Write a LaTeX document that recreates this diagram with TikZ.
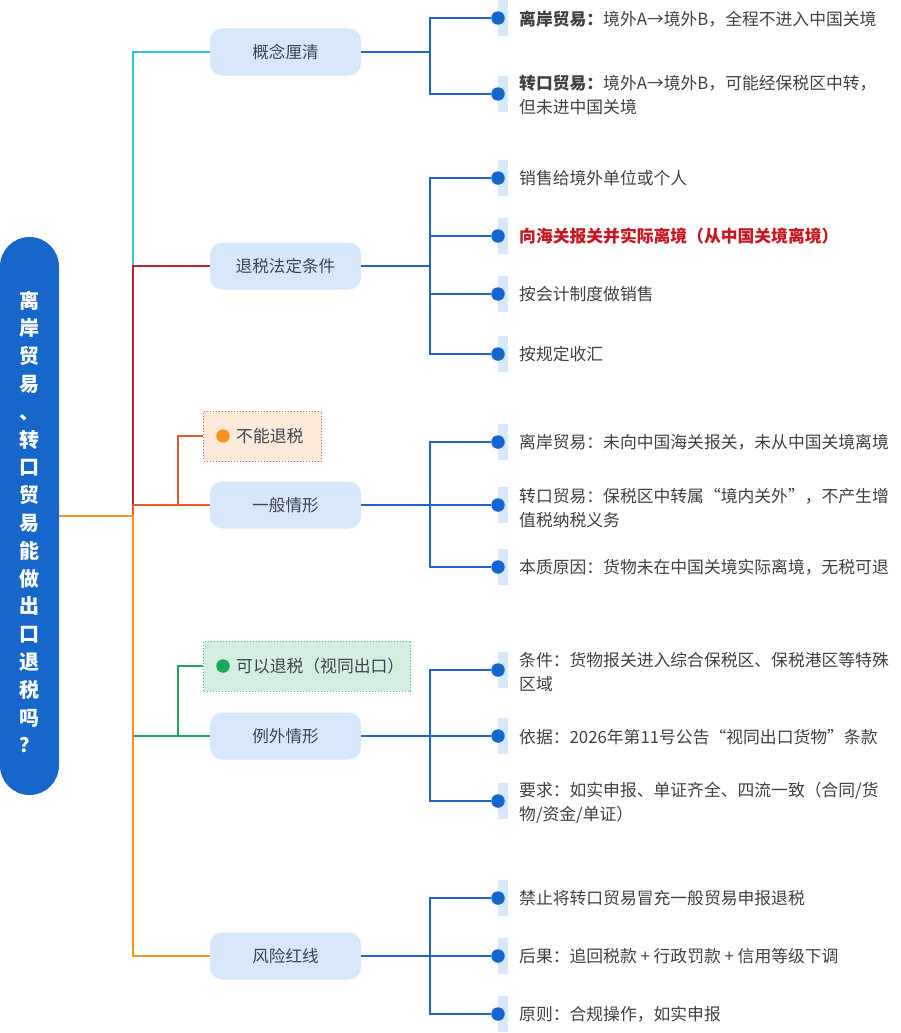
\documentclass[tikz,border=0pt]{standalone}
\usepackage{fontspec}
\setmainfont{Noto Sans CJK SC}
\definecolor{rootblue}{HTML}{1766CC}
\definecolor{nodefill}{HTML}{D6E6FB}
\definecolor{nodetext}{HTML}{3D4555}
\definecolor{childtext}{HTML}{404040}
\definecolor{redtext}{HTML}{C8161E}
\definecolor{connblue}{HTML}{1E64C4}
\definecolor{dotblue}{HTML}{1565D0}
\definecolor{barblue}{HTML}{D8E7FB}
\definecolor{brcyan}{HTML}{2BC4DC}
\definecolor{brred}{HTML}{B8232F}
\definecolor{brorred}{HTML}{E85A2A}
\definecolor{brgreen}{HTML}{1FA563}
\definecolor{brorange}{HTML}{F5951F}
\definecolor{peachfill}{HTML}{FDEAD8}
\definecolor{peachline}{HTML}{E0604E}
\definecolor{mintfill}{HTML}{D3EEDF}
\definecolor{mintline}{HTML}{5DB885}
\definecolor{dotorange}{HTML}{F7931E}
\definecolor{dotgreen}{HTML}{17A85A}
\begin{document}
\begin{tikzpicture}[x=1pt,y=-1pt,
  rootbox/.style={rectangle, rounded corners=29.5pt, fill=rootblue, minimum width=59pt, minimum height=558pt, inner sep=0pt},
  roottext/.style={inner sep=0pt, text=white, align=center, font=\fontsize{20pt}{27.8pt}\selectfont\bfseries},
  l1box/.style={rectangle, rounded corners=12pt, fill=nodefill, minimum width=151pt, minimum height=47pt, inner sep=0pt, text=nodetext, font=\fontsize{16.6pt}{20pt}\selectfont},
  childtxt/.style={anchor=west, inner sep=0pt, align=left, text=childtext, font=\fontsize{16.8pt}{24pt}\selectfont},
  bar/.style={rectangle, fill=barblue, minimum width=10pt, minimum height=36pt, inner sep=0pt},
  bdot/.style={circle, fill=dotblue, minimum size=13.5pt, inner sep=0pt},
  conn/.style={draw=connblue, line width=2.2pt},
  trunk/.style={line width=2.2pt},
  tagbox/.style={rectangle, dotted, line width=1pt, inner sep=0pt, anchor=west, minimum height=50pt},
  tagdot/.style={circle, minimum size=13.5pt, inner sep=0pt},
  tagtxt/.style={anchor=west, inner sep=0pt, text=nodetext, font=\fontsize{16.8pt}{20pt}\selectfont}
]
\useasboundingbox (0,0) rectangle (900,1033);

% root
\node[rootbox] (root) at (29.5,516) {};
\node[roottext] (roott) at (29.5,522) {离\\岸\\贸\\易\\、\\转\\口\\贸\\易\\能\\做\\出\\口\\退\\税\\吗\\？};
\coordinate (tr) at (133,516);

% level-1 nodes
\node[l1box] (c1) at (285.5,52) {概念厘清};
\node[l1box] (c2) at (285.5,266) {退税法定条件};
\node[l1box] (c3) at (285.5,505) {一般情形};
\node[l1box] (c4) at (285.5,736) {例外情形};
\node[l1box] (c5) at (285.5,956) {风险红线};

% tag boxes
\node[tagbox, draw=peachline, fill=peachfill, minimum width=118pt] (t3) at (203,436) {};
\node[tagdot, fill=dotorange] (t3d) at (223,436) {};
\node[tagtxt] (t3t) at (236,436) {不能退税};
\node[tagbox, draw=mintline, fill=mintfill, minimum width=207pt] (t4) at (203,666) {};
\node[tagdot, fill=dotgreen] (t4d) at (223,666) {};
\node[tagtxt] (t4t) at (236,666) {可以退税（视同出口）};

% trunk connectors
\coordinate (j3) at (178,505);
\coordinate (j4) at (178,736);
\draw[trunk, brcyan] (root.east) -- (tr) |- (c1.west);
\draw[trunk, brred] (tr) |- (c2.west);
\draw[trunk, brorred] (tr) |- (c3.west);
\draw[trunk, brorred] (j3) |- (t3.west);
\draw[trunk, brgreen] (tr) |- (c4.west);
\draw[trunk, brgreen] (j4) |- (t4.west);
\draw[trunk, brorange] (root.east) -- (tr) |- (c5.west);

% children group 1
\coordinate (b1) at (430,52);
\node[bar] (r11) at (503,18) {};
\node[bdot] (d11) at (498,18) {};
\node[childtxt] (x11) at (519,19) {\textbf{离岸贸易：}境外A→境外B，全程不进入中国关境};
\node[bar] (r12) at (503,94) {};
\node[bdot] (d12) at (498,94) {};
\node[childtxt] (x12) at (519,95) {\textbf{转口贸易：}境外A→境外B，可能经保税区中转，\\但未进中国关境};
\draw[conn] (c1.east) -- (b1) |- (d11);
\draw[conn] (b1) |- (d12);

% children group 2
\coordinate (b2) at (430,266);
\node[bar] (r21) at (503,178) {};
\node[bdot] (d21) at (498,178) {};
\node[childtxt] (x21) at (519,178) {销售给境外单位或个人};
\node[bar] (r22) at (503,236) {};
\node[bdot] (d22) at (498,236) {};
\node[childtxt, text=redtext] (x22) at (519,236) {\textbf{向海关报关并实际离境（从中国关境离境）}};
\node[bar] (r23) at (503,294) {};
\node[bdot] (d23) at (498,294) {};
\node[childtxt] (x23) at (519,294) {按会计制度做销售};
\node[bar] (r24) at (503,354) {};
\node[bdot] (d24) at (498,354) {};
\node[childtxt] (x24) at (519,354) {按规定收汇};
\draw[conn] (c2.east) -- (b2) |- (d21);
\draw[conn] (b2) |- (d22);
\draw[conn] (b2) |- (d23);
\draw[conn] (b2) |- (d24);

% children group 3
\coordinate (b3) at (430,505);
\node[bar] (r31) at (503,442) {};
\node[bdot] (d31) at (498,442) {};
\node[childtxt] (x31) at (519,442) {离岸贸易：未向中国海关报关，未从中国关境离境};
\node[bar] (r32) at (503,505) {};
\node[bdot] (d32) at (498,505) {};
\node[childtxt] (x32) at (519,508) {转口贸易：保税区中转属“境内关外”，不产生增\\值税纳税义务};
\node[bar] (r33) at (503,567) {};
\node[bdot] (d33) at (498,567) {};
\node[childtxt] (x33) at (519,567) {本质原因：货物未在中国关境实际离境，无税可退};
\draw[conn] (c3.east) -- (b3) |- (d31);
\draw[conn] (b3) |- (d32);
\draw[conn] (b3) |- (d33);

% children group 4
\coordinate (b4) at (430,736);
\node[bar] (r41) at (503,670) {};
\node[bdot] (d41) at (498,670) {};
\node[childtxt] (x41) at (519,672) {条件：货物报关进入综合保税区、保税港区等特殊\\区域};
\node[bar] (r42) at (503,736) {};
\node[bdot] (d42) at (498,736) {};
\node[childtxt] (x42) at (519,737) {依据：2026年第11号公告“视同出口货物”条款};
\node[bar] (r43) at (503,801) {};
\node[bdot] (d43) at (498,801) {};
\node[childtxt] (x43) at (519,803) {要求：如实申报、单证齐全、四流一致（合同/货\\物/资金/单证）};
\draw[conn] (c4.east) -- (b4) |- (d41);
\draw[conn] (b4) |- (d42);
\draw[conn] (b4) |- (d43);

% children group 5
\coordinate (b5) at (430,956);
\node[bar] (r51) at (503,898) {};
\node[bdot] (d51) at (498,898) {};
\node[childtxt] (x51) at (519,898) {禁止将转口贸易冒充一般贸易申报退税};
\node[bar] (r52) at (503,956) {};
\node[bdot] (d52) at (498,956) {};
\node[childtxt] (x52) at (519,956) {后果：追回税款 + 行政罚款 + 信用等级下调};
\node[bar] (r53) at (503,1014) {};
\node[bdot] (d53) at (498,1014) {};
\node[childtxt] (x53) at (519,1014) {原则：合规操作，如实申报};
\draw[conn] (c5.east) -- (b5) |- (d51);
\draw[conn] (b5) |- (d52);
\draw[conn] (b5) |- (d53);
\end{tikzpicture}
\end{document}
